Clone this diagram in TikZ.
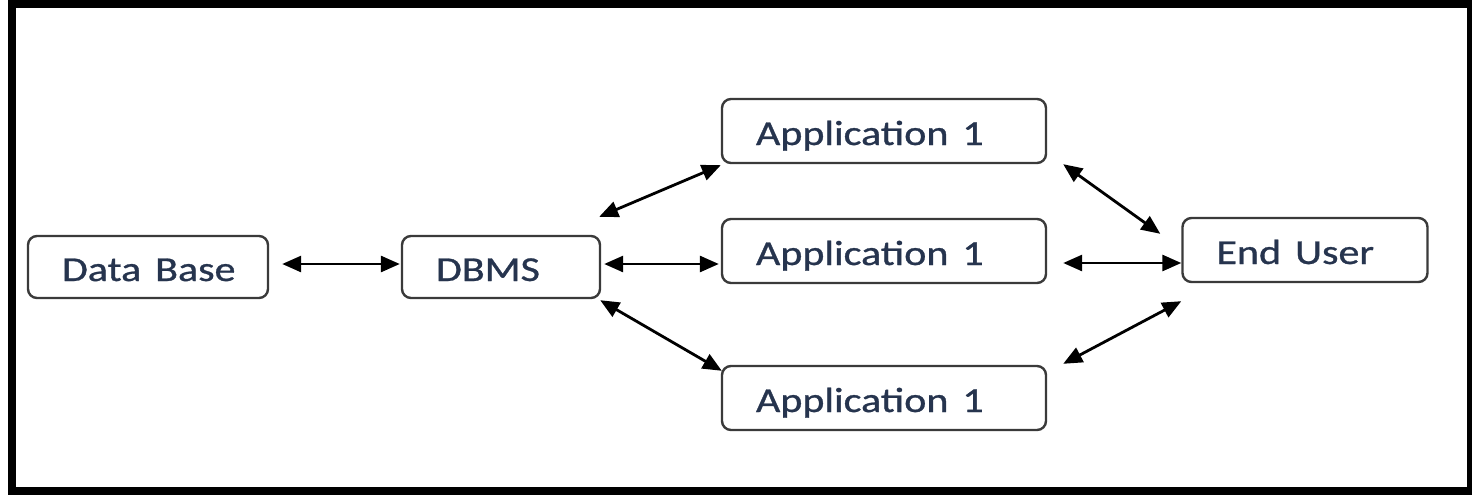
\documentclass[tikz,border=0pt]{standalone}
\usepackage{fontspec}
\setmainfont{Carlito}
\newfontfamily\labelfont{Carlito}[FakeBold=0.8]
\usetikzlibrary{arrows.meta}
\definecolor{txt}{HTML}{26344E}
\definecolor{edge}{HTML}{3A3A3A}
\tikzset{
  box/.style={draw=edge, line width=2.4pt, rounded corners=9pt, fill=white,
    inner xsep=34pt, inner ysep=0pt, align=left, text=txt,
    font=\labelfont\fontsize{35}{40}\selectfont, text height=30pt, text depth=2pt},
  link/.style={line width=2.8pt, black, {Triangle[length=19pt,width=16pt]}-{Triangle[length=19pt,width=16pt]}}
}
\newcommand{\wtxt}[1]{\scalebox{1.2}[1]{#1}}
\begin{document}
\begin{tikzpicture}[x=1pt,y=-1pt]
\useasboundingbox (0,0) rectangle (1472,495);
\fill[black] (8,0) rectangle (1472,495);
\fill[white] (16,8) rectangle (1467,487);
\node[box, text width=172pt, minimum height=62pt] (db) at (148,267) {\wtxt{Data Base}};
\node[box, text width=130pt, minimum height=62pt] (dbms) at (501,267) {\wtxt{DBMS}};
\node[box, text width=256pt, minimum height=64pt] (app1) at (884,131) {\wtxt{Application 1}};
\node[box, text width=256pt, minimum height=64pt] (app2) at (884,251) {\wtxt{Application 1}};
\node[box, text width=256pt, minimum height=64pt] (app3) at (884,398) {\wtxt{Application 1}};
\node[box, text width=177pt, minimum height=64pt] (eu) at (1305,250) {\wtxt{End User}};
\draw[link] ([shift={(13,-3)}]db.east) -- ([shift={(-1,-3)}]dbms.west);
\draw[link] ([shift={(3,-3)}]dbms.east) -- ([shift={(-2,13)}]app2.west);
\draw[link] ([shift={(-2,-18)}]dbms.north east) -- ([shift={(0,1)}]app1.south west);
\draw[link] ([shift={(-1,1)}]dbms.south east) -- ([shift={(1,6)}]app3.north west);
\draw[link] ([shift={(16,0)}]app1.south east) -- ([shift={(-21,17)}]eu.north west);
\draw[link] ([shift={(16,12)}]app2.east) -- ([shift={(0,13)}]eu.west);
\draw[link] ([shift={(16,-1)}]app3.north east) -- ([shift={(0,18)}]eu.south west);
\end{tikzpicture}
\end{document}
